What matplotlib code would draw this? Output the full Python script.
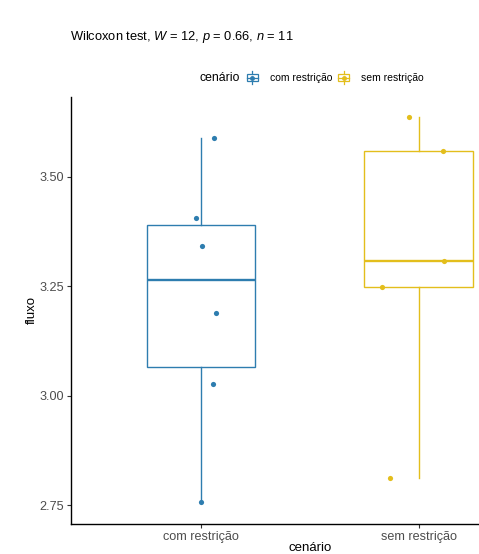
import matplotlib
matplotlib.use("Agg")
import matplotlib.pyplot as plt
from matplotlib.lines import Line2D
from matplotlib.patches import Rectangle
from matplotlib.legend_handler import HandlerBase

plt.rcParams["font.family"] = ["Liberation Sans", "DejaVu Sans"]
plt.rcParams["mathtext.fontset"] = "custom"
plt.rcParams["mathtext.rm"] = "Liberation Sans"
plt.rcParams["mathtext.it"] = "Liberation Sans:italic"

# data
categories = ["com restrição", "sem restrição"]
com_values = [3.588, 3.406, 3.342, 3.188, 3.026, 2.758]
sem_values = [3.637, 3.559, 3.308, 3.249, 2.812]
com_jitter = [0.057, -0.024, 0.002, 0.070, 0.055, 0.000]
sem_jitter = [-0.043, 0.113, 0.118, -0.168, -0.133]
y_ticks = [2.75, 3.00, 3.25, 3.50]
title = "Wilcoxon test, $W$ = 12, $p$ = 0.66, $n$ = 11"

colors = ["#2E7DAF", "#E3BE1C"]

fig = plt.figure(figsize=(4.79, 5.54), dpi=100)
W, H = 479, 554
left_px, right_px, top_px, bottom_px = 70.7, 549.0, 97.0, 524.0
ax = fig.add_axes([left_px / W, 1 - bottom_px / H,
                   (right_px - left_px) / W, (bottom_px - top_px) / H])

series = [com_values, sem_values]
jitters = [com_jitter, sem_jitter]
for i, (vals, jit, col) in enumerate(zip(series, jitters, colors)):
    pos = i + 1
    ax.boxplot([vals], positions=[pos], widths=0.5, whis=1.5,
               showfliers=False, showcaps=False, patch_artist=True,
               boxprops=dict(facecolor="white", edgecolor=col, linewidth=1.0),
               whiskerprops=dict(color=col, linewidth=1.0),
               medianprops=dict(color=col, linewidth=1.7),
               zorder=2)
    ax.scatter([pos + j for j in jit], vals, s=14, color=col, zorder=3,
               linewidths=0)

ax.set_xlim(0.4, 2.6)
ax.set_ylim(2.707, 3.682)
ax.set_xticks([1, 2])
ax.set_xticklabels(categories)
ax.set_yticks(y_ticks)
ax.set_yticklabels([f"{t:.2f}" for t in y_ticks])

for s in ["top", "right"]:
    ax.spines[s].set_visible(False)
for s in ["left", "bottom"]:
    ax.spines[s].set_linewidth(1.0)
    ax.spines[s].set_color("black")
ax.tick_params(axis="both", length=3, width=0.8, color="#333333",
               labelsize=9.1, labelcolor="#4D4D4D", pad=2)

ax.set_ylabel("fluxo", fontsize=9.5, labelpad=1)
ax.set_xlabel("cenário", fontsize=9.5, labelpad=-1)

fig.text(70 / W, 1 - 37 / H, title, fontsize=9.3, ha="left", va="center")


class BoxKey(HandlerBase):
    def create_artists(self, legend, orig_handle, xdescent, ydescent,
                       width, height, fontsize, trans):
        col = orig_handle.get_color()
        x0, y0 = -xdescent, -ydescent
        bx0, bx1 = x0, x0 + width
        by0, by1 = y0 + 0.1 * height, y0 + 0.9 * height
        ym = y0 + 0.5 * height
        xm = x0 + 0.5 * width
        rect = Rectangle((bx0, by0), bx1 - bx0, by1 - by0, facecolor="white",
                         edgecolor=col, linewidth=0.9, transform=trans)
        med = Line2D([bx0, bx1], [ym, ym], color=col, linewidth=0.9,
                     transform=trans)
        wl = Line2D([xm, xm], [y0 - 0.15 * height, by0], color=col,
                    linewidth=0.9, transform=trans)
        wh = Line2D([xm, xm], [by1, y0 + 1.15 * height], color=col,
                    linewidth=0.9, transform=trans)
        dot = Line2D([xm], [ym], marker="o", markersize=2.5, color=col,
                     linestyle="none", transform=trans)
        return [rect, med, wl, wh, dot]


handles = [Line2D([], [], color=c) for c in colors]
fig.text(200 / W, 1 - 78 / H, "cenário", fontsize=8.8, ha="left",
         va="center")
fig.legend(handles, categories, handler_map={Line2D: BoxKey()},
           loc="center left", bbox_to_anchor=(247 / W, 1 - 78 / H),
           ncol=2, frameon=False, fontsize=7.5, handlelength=1.05,
           handleheight=1.0, handletextpad=1.15, columnspacing=0.58,
           borderaxespad=0, borderpad=0)

fig.savefig("out.png", dpi=100)
